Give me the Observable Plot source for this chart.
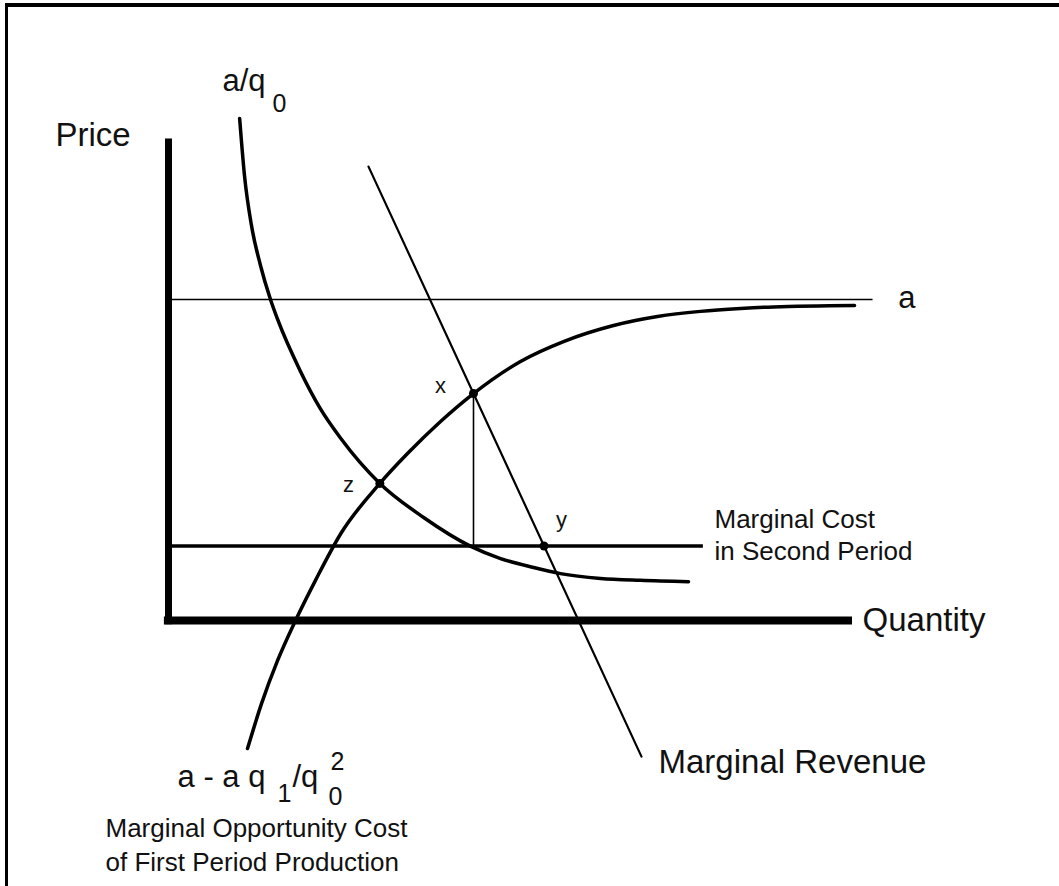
<!DOCTYPE html>
<html>
<head>
<meta charset="utf-8">
<script src="https://cdn.jsdelivr.net/npm/d3@7"></script>
<script src="https://cdn.jsdelivr.net/npm/@observablehq/plot@0.6"></script>
<style>
  html, body { margin: 0; padding: 0; background: #fff; }
  #wrap { position: relative; width: 1059px; height: 886px; overflow: hidden; background: #fff; }
  #chart { position: absolute; left: 0; top: 0; }
  #frame { position: absolute; left: 5px; top: 3px; right: 0; bottom: 0;
           border-top: 4px solid #000; border-left: 3px solid #000; pointer-events: none; }
</style>
</head>
<body>
<div id="wrap"><div id="chart"></div><div id="frame"></div></div>
<script>
// Units: price p (with a = 10), quantity q (axis drawn from 0 to 10)
const priceA = 10;             // asymptote a
const mcSecondPeriod = 2.32;   // marginal cost in second period
const priceAxisTop = 15;
const quantityAxisEnd = 10;

// a/q0 curve
const avgCurve = [
  {q: 1.04, p: 15.64}, {q: 1.111, p: 13.86}, {q: 1.213, p: 12.31}, {q: 1.345, p: 11.06},
  {q: 1.491, p: 10.00}, {q: 1.59, p: 9.41},  {q: 1.93, p: 7.76},  {q: 2.22, p: 6.60},
  {q: 2.52, p: 5.67},  {q: 3.09, p: 4.27},  {q: 3.73, p: 3.21},  {q: 4.42, p: 2.31},
  {q: 4.854, p: 1.93}, {q: 5.336, p: 1.65}, {q: 5.731, p: 1.46}, {q: 6.316, p: 1.31},
  {q: 6.901, p: 1.25}, {q: 7.602, p: 1.21}
];

// a - a q1/q0^2 : marginal opportunity cost of first period production
const oppCostCurve = [
  {q: 1.155, p: -3.99}, {q: 1.36, p: -2.59}, {q: 1.594, p: -1.25}, {q: 1.857, p: 0.00},
  {q: 2.149, p: 1.25},  {q: 2.52, p: 2.71},  {q: 3.09, p: 4.27},  {q: 3.494, p: 5.20},
  {q: 3.977, p: 6.20},  {q: 4.459, p: 7.07}, {q: 5.146, p: 8.07}, {q: 5.775, p: 8.69},
  {q: 6.506, p: 9.19},  {q: 7.149, p: 9.47}, {q: 7.778, p: 9.63}, {q: 8.363, p: 9.72},
  {q: 8.845, p: 9.77},  {q: 10.03, p: 9.81}
];

// Marginal revenue line
const marginalRevenue = [{q: 2.924, p: 14.14}, {q: 6.915, p: -4.24}];

// Marked points x, z, y
const keyPoints = [
  {name: "x", q: 4.459, p: 7.07},
  {name: "z", q: 3.09,  p: 4.27},
  {name: "y", q: 5.49,  p: 2.32}
];
const pointLabels = [
  {text: "x", q: 3.977, p: 7.10},
  {text: "z", q: 2.632, p: 3.99},
  {text: "y", q: 5.746, p: 2.90}
];

// Text labels (anchored at the start of their baseline)
const bigLabels = [
  {text: "Price", q: -1.652, p: 14.77},
  {text: "Quantity", q: 10.146, p: -0.34},
  {text: "Marginal Revenue", q: 7.164, p: -4.74}
];
const formulaLabels = [
  {text: "a/q", q: 0.789, p: 16.51},
  {text: "a", q: 10.67, p: 9.72},
  {text: "a - a q", q: 0.132, p: -5.20},
  {text: "/q", q: 1.813, p: -5.20}
];
const indexLabels = [
  {text: "0", q: 1.520, p: 15.83},
  {text: "1", q: 1.594, p: -5.67},
  {text: "0", q: 2.339, p: -5.76},
  {text: "2", q: 2.368, p: -4.67}
];
const noteLabels = [
  {text: "Marginal Cost", q: 7.982, p: 2.87},
  {text: "in Second Period", q: 7.982, p: 1.87},
  {text: "Marginal Opportunity Cost", q: -0.921, p: -6.73},
  {text: "of First Period Production", q: -0.921, p: -7.79}
];

const font = "'Liberation Sans', Arial, Helvetica, sans-serif";
const txt = (data, size, anchor = "start") => Plot.text(data, {
  x: "q", y: "p", text: "text", fontSize: size, textAnchor: anchor,
  lineAnchor: "bottom", fill: "#111"
});

const chart = Plot.plot({
  width: 1059,
  height: 886,
  margin: 0,
  x: {domain: [-2.456, 13.026], range: [0, 1059], axis: null},
  y: {domain: [-8.287, 19.315], range: [886, 0], axis: null},
  style: {fontFamily: font, background: "#fff", color: "#000"},
  marks: [
    // horizontal asymptote a
    Plot.ruleY([priceA], {x1: 0.03, x2: 10.3, stroke: "#000", strokeWidth: 1.6}),
    // marginal cost in second period
    Plot.ruleY([mcSecondPeriod], {x1: 0.03, x2: 7.82, stroke: "#000", strokeWidth: 3.5}),
    // vertical from x down to MC
    Plot.ruleX([keyPoints[0].q], {y1: mcSecondPeriod, y2: keyPoints[0].p, stroke: "#000", strokeWidth: 1.6}),
    // curves
    Plot.line(avgCurve, {x: "q", y: "p", stroke: "#000", strokeWidth: 3.5, curve: "monotone-x"}),
    Plot.line(oppCostCurve, {x: "q", y: "p", stroke: "#000", strokeWidth: 3.5, curve: "monotone-x"}),
    Plot.line(marginalRevenue, {x: "q", y: "p", stroke: "#000", strokeWidth: 2.2}),
    // axes
    Plot.ruleX([0], {y1: -0.13, y2: priceAxisTop, stroke: "#000", strokeWidth: 7}),
    Plot.ruleY([0], {x1: -0.06, x2: quantityAxisEnd, stroke: "#000", strokeWidth: 8}),
    // points
    Plot.dot(keyPoints, {x: "q", y: "p", r: 4.5, fill: "#000", stroke: "none"}),
    // labels
    txt(pointLabels, 22, "middle"),
    txt(bigLabels, 33),
    txt(formulaLabels, 31),
    txt(indexLabels, 25),
    txt(noteLabels, 26)
  ]
});
document.getElementById("chart").appendChild(chart);
</script>
</body>
</html>
